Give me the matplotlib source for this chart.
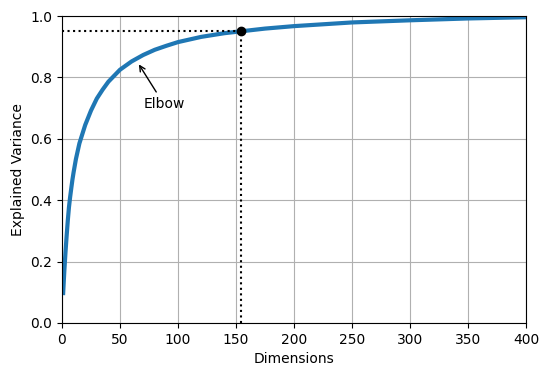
import numpy as np
import matplotlib
matplotlib.use("Agg")
import matplotlib.pyplot as plt

# cumulative explained variance
dims = [1, 2, 3, 4, 5, 6, 7, 8, 9, 10, 12, 15, 20, 25, 30, 35, 40, 50, 60, 70,
        80, 90, 100, 120, 140, 154, 175, 200, 250, 300, 350, 400]
cumsum = [0.0975, 0.169, 0.230, 0.284, 0.334, 0.377, 0.410, 0.439, 0.467, 0.491,
          0.534, 0.585, 0.645, 0.692, 0.731, 0.760, 0.786, 0.825, 0.852, 0.873,
          0.890, 0.903, 0.915, 0.932, 0.944, 0.950, 0.959, 0.967, 0.979, 0.986,
          0.992, 0.996]
d = 154
d_var = 0.95

fig = plt.figure(figsize=(5.49, 3.76), dpi=100)
ax = fig.add_axes([62/549, 1 - 323/376, (526-62)/549, (323-16)/376])
ax.plot(dims, cumsum, linewidth=3)
ax.axis([0, 400, 0, 1])
ax.set_xlabel("Dimensions")
ax.set_ylabel("Explained Variance")
ax.plot([d, d], [0, d_var], "k:")
ax.plot([0, d], [d_var, d_var], "k:")
ax.plot(d, d_var, "ko")
ax.annotate("Elbow", xy=(65, 0.85), xytext=(70, 0.7),
            arrowprops=dict(arrowstyle="->"))
ax.grid(True)
fig.savefig("out.png")
